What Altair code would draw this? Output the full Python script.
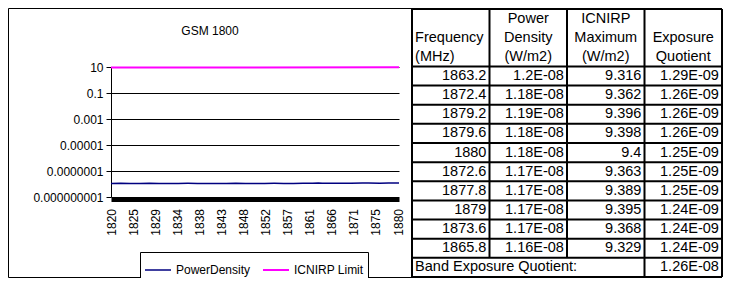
import altair as alt
import pandas as pd

FONT = "Liberation Sans"

# ---------------- chart data ----------------
title_text = "GSM 1800"
series_names = ["PowerDensity", "ICNIRP Limit"]
series_colors = ["#000080", "#FF00FF"]
series_widths = [1.5, 2]

pd_freq = [1820, 1822, 1824, 1826, 1828, 1830, 1832, 1834, 1836, 1838, 1840,
           1842, 1844, 1846, 1848, 1850, 1852, 1854, 1856, 1858, 1860, 1862,
           1863.2, 1864, 1865.8, 1868, 1870, 1872.4, 1872.6, 1873.6, 1876,
           1877.8, 1879, 1879.2, 1879.6, 1880]
pd_vals = [1.10e-8, 1.12e-8, 1.09e-8, 1.11e-8, 1.13e-8, 1.10e-8, 1.08e-8,
           1.11e-8, 1.12e-8, 1.10e-8, 1.09e-8, 1.11e-8, 1.10e-8, 1.12e-8,
           1.09e-8, 1.11e-8, 1.10e-8, 1.12e-8, 1.11e-8, 1.09e-8, 1.12e-8,
           1.13e-8, 1.20e-8, 1.13e-8, 1.16e-8, 1.12e-8, 1.13e-8, 1.18e-8,
           1.17e-8, 1.17e-8, 1.14e-8, 1.17e-8, 1.17e-8, 1.19e-8, 1.18e-8,
           1.18e-8]
lim_freq = [1820, 1850, 1880]
lim_vals = [9.1, 9.25, 9.4]

x_ticks = [1820, 1824.6, 1829.2, 1833.8, 1838.4, 1843, 1847.6, 1852.2,
           1856.8, 1861.4, 1866, 1870.6, 1875.2, 1879.8]
y_ticks = [1e-9, 1e-7, 1e-5, 1e-3, 0.1, 10]

# ---------------- table data ----------------
hdr_col0 = ["", "Frequency", "(MHz)"]
hdr_col1 = ["Power", "Density", "(W/m2)"]
hdr_col2 = ["ICNIRP", "Maximum", "(W/m2)"]
hdr_col3 = ["", "Exposure", "Quotient"]
tbl_freq = ["1863.2", "1872.4", "1879.2", "1879.6", "1880", "1872.6",
            "1877.8", "1879", "1873.6", "1865.8"]
tbl_pd = ["1.2E-08", "1.18E-08", "1.19E-08", "1.18E-08", "1.18E-08",
          "1.17E-08", "1.17E-08", "1.17E-08", "1.17E-08", "1.16E-08"]
tbl_max = ["9.316", "9.362", "9.396", "9.398", "9.4", "9.363", "9.389",
           "9.395", "9.368", "9.329"]
tbl_eq = ["1.29E-09", "1.26E-09", "1.26E-09", "1.26E-09", "1.25E-09",
          "1.25E-09", "1.25E-09", "1.24E-09", "1.24E-09", "1.24E-09"]
band_label = "Band Exposure Quotient:"
band_value = "1.26E-08"

# ---------------- layout (pixels relative to plot origin) ----------------
W, H = 288, 130
TBL_X = [301, 611]
TBL_Y = [-58, 210]
N_SLOTS = 14
PADX = 0.04

# ---------------- build frames ----------------
line_df = pd.DataFrame({
    "freq": pd_freq + lim_freq,
    "value": pd_vals + lim_vals,
    "series": [series_names[0]] * len(pd_freq) + [series_names[1]] * len(lim_freq),
})

lines = alt.Chart(line_df).mark_line().encode(
    x=alt.X("freq:Q",
            scale=alt.Scale(domain=[1820, 1880], nice=False, zero=False),
            axis=alt.Axis(values=x_ticks, format=".0f", labelAngle=270,
                          labelFlush=False, labelBound=False, labelOverlap=False,
                          ticks=False, tickSize=0, labelPadding=9,
                          domainColor="black", domainWidth=4, offset=2.5,
                          grid=False, title=None, labelFont=FONT,
                          labelFontSize=12, labelColor="black")),
    y=alt.Y("value:Q",
            scale=alt.Scale(type="log", domain=[1e-9, 10], nice=False),
            axis=alt.Axis(values=y_ticks, format=".9~f", grid=True,
                          gridColor="black", gridOpacity=1, gridWidth=1,
                          domainColor="black", tickColor="black", tickSize=5,
                          labelPadding=3, title=None, labelFont=FONT,
                          labelFontSize=12, labelColor="black",
                          labelOverlap=False)),
    color=alt.Color("series:N",
                    scale=alt.Scale(domain=series_names, range=series_colors),
                    legend=alt.Legend(title=None, orient="none", legendX=29,
                                      legendY=185, direction="horizontal",
                                      strokeColor="black", fillColor="white",
                                      padding=4, symbolType="stroke",
                                      symbolSize=676, symbolStrokeWidth=1.5,
                                      labelFont=FONT, labelFontSize=12,
                                      labelColor="black", labelOffset=4,
                                      columnPadding=8)),
    strokeWidth=alt.StrokeWidth("series:N",
                                scale=alt.Scale(domain=series_names, range=series_widths),
                                legend=None),
)

frame = alt.Chart(pd.DataFrame({"a": [0]})).mark_rect(
    filled=False, stroke="black", strokeWidth=1
).encode(x=alt.value(-102.5), x2=alt.value(TBL_X[0]),
         y=alt.value(-58.5), y2=alt.value(210.5))

title = alt.Chart(pd.DataFrame({"t": [title_text]})).mark_text(
    font=FONT, fontSize=12, color="black", align="center", baseline="middle"
).encode(text="t:N", x=alt.value(99), y=alt.value(-36))

# table cells
cells = []
for i, t in enumerate(hdr_col0):
    cells.append((0 + PADX, i + 0.5, t, "left"))
for c, col in enumerate([hdr_col1, hdr_col2, hdr_col3], start=1):
    for i, t in enumerate(col):
        cells.append((c + 0.5, i + 0.5, t, "center"))
for r in range(len(tbl_freq)):
    y = 3 + r + 0.5
    for c, col in enumerate([tbl_freq, tbl_pd, tbl_max, tbl_eq]):
        cells.append((c + 1 - PADX, y, col[r], "right"))
cells.append((0 + PADX, 13.5, band_label, "left"))
cells.append((4 - PADX, 13.5, band_value, "right"))
cell_df = pd.DataFrame(cells, columns=["tx", "ty", "label", "al"])
cell_df = cell_df[cell_df["label"] != ""]

def tx_enc(field):
    return alt.X(field, scale=alt.Scale(domain=[0, 4], range=TBL_X, nice=False, zero=False), axis=None)

def ty_enc(field):
    return alt.Y(field, scale=alt.Scale(domain=[0, N_SLOTS], range=TBL_Y, nice=False, zero=False), axis=None)

text_layers = []
for al in ["left", "center", "right"]:
    text_layers.append(
        alt.Chart(cell_df[cell_df["al"] == al]).mark_text(
            font=FONT, fontSize=14.5, color="black", align=al, baseline="middle"
        ).encode(x=tx_enc("tx:Q"), y=ty_enc("ty:Q"), text="label:N")
    )

# table border segments
segs = [(0, 0, 4, 0)]
for k in range(3, N_SLOTS + 1):
    segs.append((0, k, 4, k))
for c in [0, 3, 4]:
    segs.append((c, 0, c, N_SLOTS))
for c in [1, 2]:
    segs.append((c, 0, c, N_SLOTS - 1))
seg_df = pd.DataFrame(segs, columns=["sx", "sy", "sx2", "sy2"])
grid = alt.Chart(seg_df).mark_rule(color="black", strokeWidth=2).encode(
    x=tx_enc("sx:Q"), x2="sx2:Q", y=ty_enc("sy:Q"), y2="sy2:Q"
)

chart = alt.layer(lines, frame, title, grid, *text_layers).resolve_scale(
    x="independent", y="independent"
).properties(
    width=W, height=H,
    padding={"left": 103, "top": 59, "right": 324, "bottom": 81},
    autosize=alt.AutoSizeParams(type="none"),
    background="white",
).configure_view(stroke="transparent")

chart.save("out.html", embed_options={"renderer": "svg", "actions": False})
